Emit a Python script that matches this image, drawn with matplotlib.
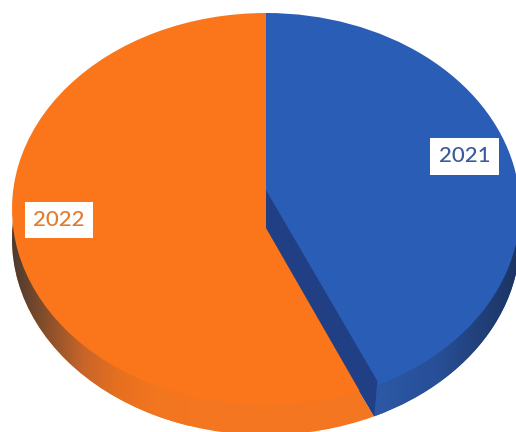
import numpy as np
import matplotlib
matplotlib.use("Agg")
import matplotlib.pyplot as plt
from matplotlib.colors import LinearSegmentedColormap
from matplotlib.patches import Polygon

years = ["2021", "2022"]
shares = [43, 57]

BLUE_TOP = "#2a5db6"
ORANGE_TOP = "#fb761a"
ORANGE_RIM = "#f47620"
BLUE_CUT = "#203f85"

# Disc geometry on the canvas, in pixels
CENTER_X, CENTER_Y = 266, 209
RADIUS_X, RADIUS_Y = 254, 196
DEPTH = 30 / RADIUS_Y   # thickness of the disc, in radii
LIFT = 19 / RADIUS_Y    # how far the cut face reaches above and below the centre

fig = plt.figure(figsize=(5.16, 4.32), dpi=100)
ax = fig.add_axes([0, 0, 1, 1])


def disc(center_y, colors):
    wedges, _ = ax.pie(shares, colors=colors, startangle=90, counterclock=False,
                       center=(0, center_y), radius=1)
    return wedges


def shade(wedge, stops, extent, zorder):
    # Horizontal shading of the rim, limited to one wedge
    cmap = LinearSegmentedColormap.from_list("rim", stops)
    img = ax.imshow(np.linspace(0, 1, 256)[None, :], cmap=cmap, extent=extent,
                    aspect="auto", zorder=zorder)
    img.set_clip_path(wedge)


def to_x(px):
    return (px - CENTER_X) / RADIUS_X


def to_y(px):
    return (CENTER_Y - px) / RADIUS_Y


# Rim of the blue slice, then its top face
side_blue = disc(-DEPTH, [BLUE_TOP, "none"])[0]
side_blue.set_zorder(1)
shade(side_blue, ["#2d5fb5", "#2d5cab", "#284f98", "#1b3360"],
      (0, 1, -1.4, 1.2), 1.1)
disc(0, [BLUE_TOP, "none"])[0].set_zorder(2)

# Rim of the orange slice, then its top face
side_orange = disc(-DEPTH, ["none", ORANGE_RIM])[1]
side_orange.set_zorder(3)
shade(side_orange,
      ["#4a3a30", "#8a4f2a", "#c8652a", "#e6701f", "#f2751f", ORANGE_RIM],
      (-1.0, -0.3, -1.4, 1.2), 3.1)
disc(0, ["none", ORANGE_TOP])[1].set_zorder(4)

# Cut face of the blue slice, seen between the two slices
theta = 2 * np.pi * shares[0] / sum(shares)
rim_x, rim_y = np.sin(theta), np.cos(theta)
cut_face = [(0, LIFT), (0, -LIFT), (rim_x, rim_y - DEPTH),
            (rim_x * 1.03, rim_y * 0.97)]
ax.add_patch(Polygon(cut_face, closed=True, facecolor=BLUE_CUT,
                     edgecolor="none", zorder=5))

ax.set_aspect("auto")
ax.set_xlim(to_x(0), to_x(516))
ax.set_ylim(to_y(432), to_y(0))
ax.axis("off")

# Year labels in white boxes
label_font = dict(family="Lato", fontsize=16, fontweight="medium", ha="center",
                  va="center", zorder=6,
                  bbox=dict(boxstyle="square,pad=0.38", facecolor="white",
                            edgecolor="none"))
ax.text(to_x(464.5), to_y(156.5), years[0], color="#3a5a9e", **label_font)
ax.text(to_x(59), to_y(220), years[1], color="#e27a30", **label_font)

fig.savefig("out.png", dpi=100, facecolor="white")
